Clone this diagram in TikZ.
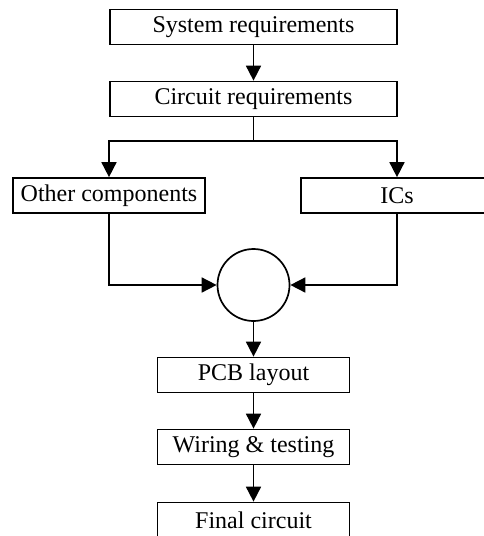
\documentclass[tikz,border=0pt]{standalone}
\usepackage{fontspec}
\setmainfont{Liberation Serif}
\usetikzlibrary{arrows.meta}

\begin{document}
\begin{tikzpicture}[x=1pt, y=-1pt, line width=1.7pt,
    box/.style={draw, minimum width=287pt, minimum height=35pt, inner sep=0pt, font=\fontsize{24}{28}\selectfont},
    sbox/.style={box, minimum width=192pt},
    arr/.style={-{Triangle[length=15pt, width=15pt]}}]
    \clip (0,0) rectangle (484,536);
    \node[box] (sys) at (253.5,27) {System requirements};
    \node[box] (circ) at (253.5,99) {Circuit requirements};
    \coordinate (split) at (253.5,141);
    \node[sbox] (other) at (109,195.5) {Other components};
    \node[sbox] (ics) at (397,195.5) {ICs};
    \node[draw, circle, minimum size=72pt, inner sep=0pt] (sum) at (253.5,285) {};
    \node[sbox] (pcb) at (253.5,375) {PCB layout};
    \node[sbox] (wire) at (253.5,447) {Wiring \& testing};
    \node[sbox] (final) at (253.5,520) {Final circuit};
    \draw[arr] (sys) -- (circ);
    \draw (circ) -- (split);
    \draw[arr] (split) -| (other);
    \draw[arr] (split) -| (ics);
    \draw[arr] (other) |- (sum);
    \draw[arr] (ics) |- (sum);
    \draw[arr] (sum) -- (pcb);
    \draw[arr] (pcb) -- (wire);
    \draw[arr] (wire) -- (final);
\end{tikzpicture}
\end{document}
